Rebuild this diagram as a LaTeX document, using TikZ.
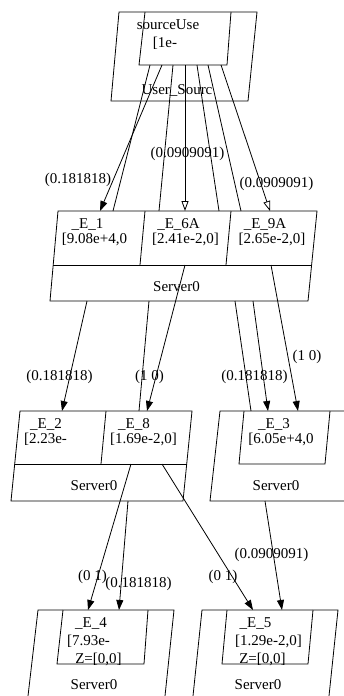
\documentclass[tikz,border=0pt]{standalone}
\usepackage{fontspec}
\setmainfont{Liberation Serif}
\usetikzlibrary{arrows.meta}
\begin{document}
\begin{tikzpicture}[x=1pt,y=-1pt,
  shapeline/.style={draw, line width=0.8pt, line join=miter},
  txt/.style={font=\fontsize{15}{17}\selectfont, inner sep=0pt, anchor=base},
  lbl/.style={font=\fontsize{15}{17}\selectfont, inner sep=0pt},
  plainedge/.style={draw, line width=0.8pt},
  flow/.style={draw, line width=0.8pt, -{Triangle[length=10pt,width=7pt]}},
  openflow/.style={draw, line width=0.8pt, -{Triangle[open,length=10pt,width=7pt,fill=white]}}]
\clip (0,0) rectangle (344,696);

% ---- source user (top) ----
\draw[shapeline] (119,12) -- (257,12) -- (248,101) -- (111,101) -- cycle;
\draw[shapeline] (145,12) -- (139,65) -- (227,65) -- (231,12);
\node[txt] (srcname) at (168,29) {sourceUse};
\node[txt] (srcval) at (165,47) {[1e-};
\node[txt] (srcgrp) at (177,94) {User\_Sourc};

% ---- first server group ----
\draw[shapeline] (58,211) -- (317,211) -- (308,301) -- (50,301) -- cycle;
\draw[shapeline] (53.2,265) -- (311.6,265);
\draw[shapeline] (145,211) -- (140,265);
\draw[shapeline] (231,211) -- (226,265);
\node[txt] (e1name) at (87.5,228) {\_E\_1};
\node[txt] (e1val) at (94.5,243) {[9.08e+4,0};
\node[txt] (e6name) at (178.5,228) {\_E\_6A};
\node[txt] (e6val) at (185.5,243) {[2.41e-2,0]};
\node[txt] (e9name) at (265,228) {\_E\_9A};
\node[txt] (e9val) at (272,243) {[2.65e-2,0]};
\node[txt] (grp1) at (176.5,291) {Server0};

% ---- second row, left group ----
\draw[shapeline] (20,411) -- (192,411) -- (183,501) -- (11,501) -- cycle;
\draw[shapeline] (14.7,464) -- (186.7,464);
\draw[shapeline] (106,411) -- (101,464);
\node[txt] (e2name) at (46,428) {\_E\_2};
\node[txt] (e2val) at (45.5,443) {[2.23e-};
\node[txt] (e8name) at (134,428) {\_E\_8};
\node[txt] (e8val) at (143.5,443) {[1.69e-2,0]};
\node[txt] (grp2) at (94,490) {Server0};

% ---- second row, right group ----
\draw[shapeline] (220,411) -- (362,411) -- (353,501) -- (210,501) -- cycle;
\draw[shapeline] (244,411) -- (239,464) -- (325,464) -- (330,411);
\node[txt] (e3name) at (274,428) {\_E\_3};
\node[txt] (e3val) at (281,443) {[6.05e+4,0};
\node[txt] (grp3) at (276,490) {Server0};

% ---- third row ----
\draw[shapeline] (28,696) -- (38,610) -- (174,610) -- (165,696);
\draw[shapeline] (63,610) -- (57,664) -- (144,664) -- (148,610);
\node[txt] (e4name) at (91,627) {\_E\_4};
\node[txt] (e4val) at (88.5,645) {[7.93e-};
\node[txt] (e4z) at (98.5,663) {Z=[0,0]};
\node[txt] (grp4) at (94,689) {Server0};

\draw[shapeline] (193,696) -- (202,610) -- (338,610) -- (329,696);
\draw[shapeline] (227,610) -- (222,664) -- (308,664) -- (313,610);
\node[txt] (e5name) at (255.5,627) {\_E\_5};
\node[txt] (e5val) at (268.5,645) {[1.29e-2,0]};
\node[txt] (e5z) at (262.5,663) {Z=[0,0]};
\node[txt] (grp5) at (258,689) {Server0};

% ---- connector end points ----
\coordinate (s1) at (150,65);  \coordinate (t1) at (113,211);
\coordinate (s2) at (162,65);  \coordinate (t2) at (100,211);
\coordinate (s3) at (173,65);  \coordinate (t3) at (159,211);
\coordinate (s4) at (185,65);  \coordinate (t4) at (185,211);
\coordinate (s5) at (197,65);  \coordinate (t5) at (219,211);
\coordinate (s6) at (208,65);  \coordinate (t6) at (241,211);
\coordinate (s7) at (221,65);  \coordinate (t7) at (270,211);

\coordinate (u1) at (87,301);  \coordinate (w1) at (62,411);
\coordinate (u2) at (149,301); \coordinate (w2) at (139,411);
\coordinate (u3) at (185,265); \coordinate (w3) at (147,411);
\coordinate (u4) at (235,301); \coordinate (w4) at (251,411);
\coordinate (u5) at (253,301); \coordinate (w5) at (268,411);
\coordinate (u6) at (271,265); \coordinate (w6) at (298,411);

\coordinate (v1) at (131,464); \coordinate (z1) at (88,610);
\coordinate (v2) at (128,501); \coordinate (z2) at (119,610);
\coordinate (v3) at (162,464); \coordinate (z3) at (253,610);
\coordinate (v4) at (265,501); \coordinate (z4) at (282,610);

% ---- connectors ----
\draw[plainedge] (s1) -- (t1);
\draw[flow] (s2) -- (t2);
\draw[plainedge] (s3) -- (t3);
\draw[openflow] (s4) -- (t4);
\draw[plainedge] (s5) -- (t5);
\draw[plainedge] (s6) -- (t6);
\draw[openflow] (s7) -- (t7);

\draw[flow] (u1) -- (w1);
\draw[plainedge] (u2) -- (w2);
\draw[flow] (u3) -- (w3);
\draw[plainedge] (u4) -- (w4);
\draw[flow] (u5) -- (w5);
\draw[flow] (u6) -- (w6);

\draw[flow] (v1) -- (z1);
\draw[flow] (v2) -- (z2);
\draw[flow] (v3) -- (z3);
\draw[flow] (v4) -- (z4);

% ---- connector labels ----
\node[lbl] (l1) at (78,180) {(0.181818)};
\node[lbl] (l2) at (187.5,154) {(0.0909091)};
\node[lbl] (l3) at (276.5,183.5) {(0.0909091)};
\node[lbl] (l4) at (59.5,376.5) {(0.181818)};
\node[lbl] (l5) at (149.5,376.5) {(1 0)};
\node[lbl] (l6) at (254.5,376.5) {(0.181818)};
\node[lbl] (l7) at (307,356.5) {(1 0)};
\node[lbl] (l8) at (92.5,576.5) {(0 1)};
\node[lbl] (l9) at (138.5,584) {(0.181818)};
\node[lbl] (l10) at (223,576.5) {(0 1)};
\node[lbl] (l11) at (271.5,555) {(0.0909091)};
\end{tikzpicture}
\end{document}
